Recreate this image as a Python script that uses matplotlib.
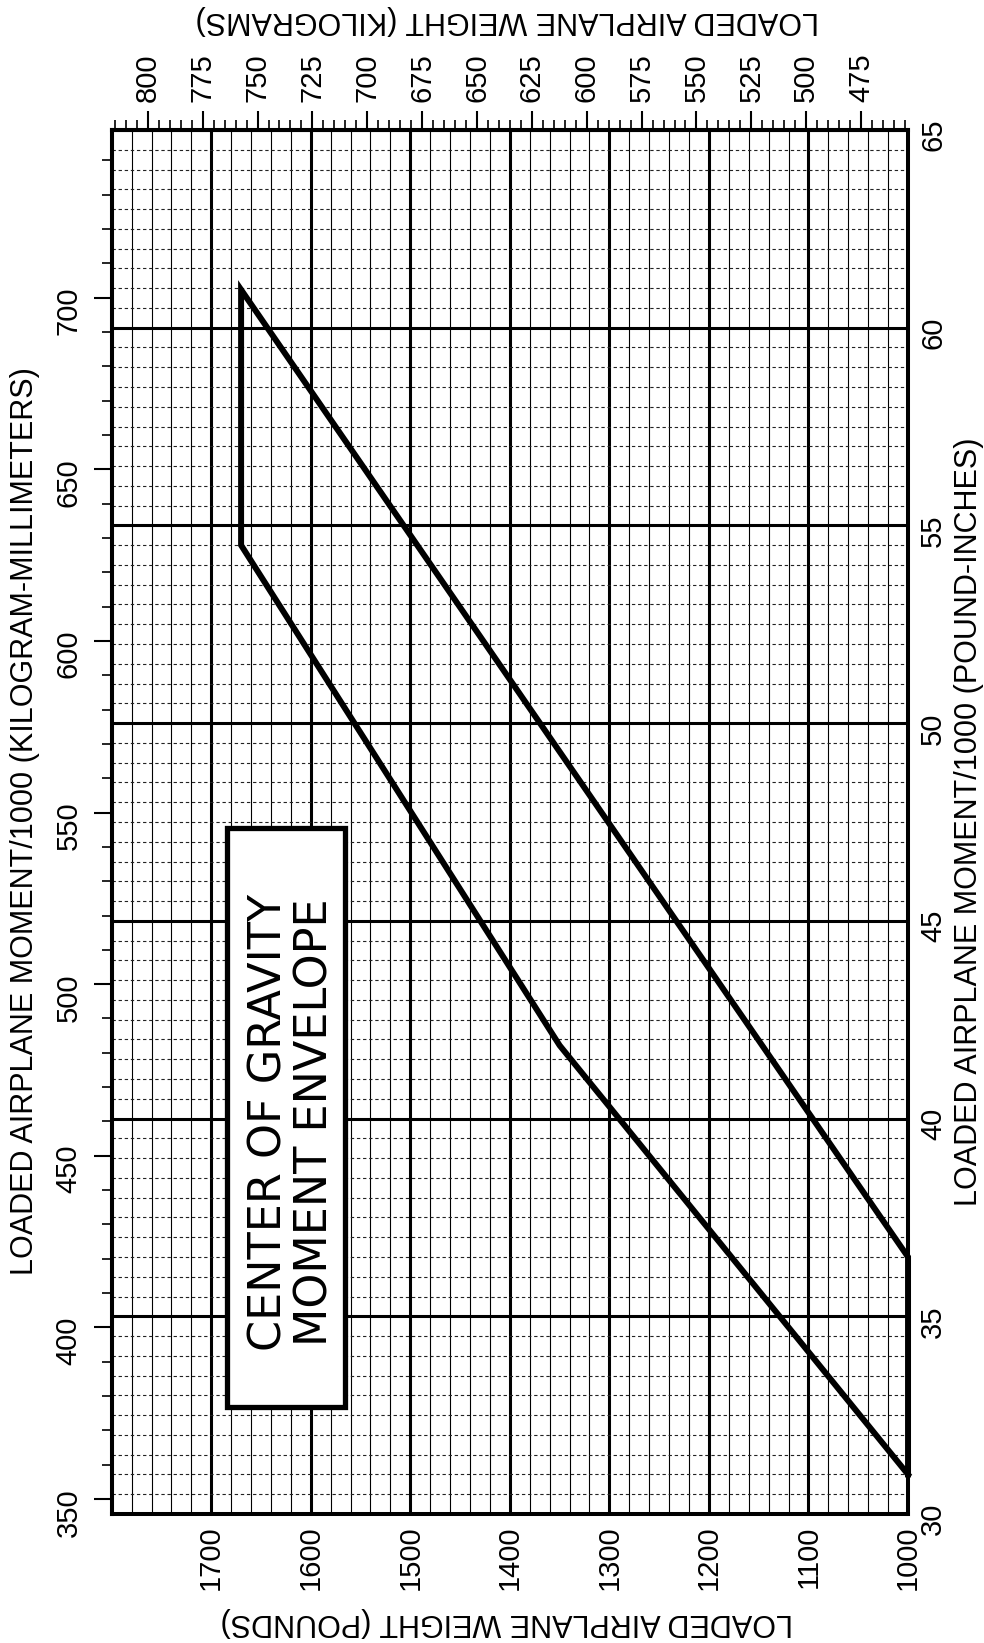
import numpy as np
import matplotlib.pyplot as plt
from matplotlib.patches import Rectangle

plt.rcParams['font.family'] = ['Liberation Sans', 'DejaVu Sans']

# envelope corners (pounds, pound-inches/1000)
env_weight = [1000, 1350, 1670, 1670, 1000, 1000]
env_moment = [31.0, 41.85, 54.5, 60.96, 36.5, 31.0]

lb_ticks = [1000, 1100, 1200, 1300, 1400, 1500, 1600, 1700]
lbin_ticks = [30, 35, 40, 45, 50, 55, 60, 65]
kg_ticks = [475, 500, 525, 550, 575, 600, 625, 650, 675, 700, 725, 750, 775, 800]
kgmm_ticks = [350, 400, 450, 500, 550, 600, 650, 700]

LB_PER_KG = 2.20462
KGMM_PER_LBIN = 11.521

fig = plt.figure(figsize=(9.84, 16.43), dpi=100)
ax = fig.add_axes([0.1135, 0.0785, 0.8093, 0.8424])
ax.set_xlim(1800, 1000)
ax.set_ylim(30, 65)

ax.set_xticks(lb_ticks)
ax.set_xticks(np.arange(1000, 1801, 20), minor=True)
ax.set_yticks(lbin_ticks)
ax.set_yticks(np.arange(30, 65.01, 0.5), minor=True)

ax.grid(which='major', color='black', lw=2.2)
ax.grid(which='minor', axis='x', color='black', lw=0.8)
ax.grid(which='minor', axis='y', color='#222222', lw=0.8, ls=(0, (3, 2.5)))

ax.tick_params(which='both', length=0, top=False, bottom=False, left=False, right=False,
               labelbottom=True, labelright=True, labelleft=False)
ax.tick_params(axis='both', labelrotation=90, pad=8, labelsize=21)
for s in ax.spines.values():
    s.set_linewidth(2.9)

ax.plot(env_weight, env_moment, color='black', lw=4.3, solid_joinstyle='miter',
        clip_on=False, zorder=5)

# kilogram scales
sec_top = ax.secondary_xaxis('top', functions=(lambda w: w / LB_PER_KG, lambda k: k * LB_PER_KG))
sec_top.set_xticks(kg_ticks)
sec_top.set_xticks(np.arange(455, 816, 5), minor=True)
sec_top.tick_params(which='major', direction='out', length=14, width=1.5, pad=6,
                    labelsize=21, labelrotation=90)
sec_top.tick_params(which='minor', direction='out', length=7, width=1.2)

sec_left = ax.secondary_yaxis('left', functions=(lambda m: m * KGMM_PER_LBIN, lambda k: k / KGMM_PER_LBIN))
sec_left.set_yticks(kgmm_ticks)
sec_left.set_yticks(np.arange(350, 751, 10), minor=True)
sec_left.tick_params(which='major', direction='out', length=13, width=1.5, pad=8,
                     labelsize=21, labelrotation=90)
sec_left.tick_params(which='minor', direction='out', length=7, width=1.2)
for s in list(sec_top.spines.values()) + list(sec_left.spines.values()):
    s.set_linewidth(2.9)

# title box
ax.add_patch(Rectangle((0.1448, 0.0773), 0.1482, 0.4184, transform=ax.transAxes,
                       facecolor='white', edgecolor='black', lw=3.8, zorder=6))
ax.text(0.198, 0.283, 'CENTER OF GRAVITY', rotation=90, ha='center', va='center',
        transform=ax.transAxes, fontsize=32, family='DejaVu Sans', zorder=7)
ax.text(0.255, 0.283, 'MOMENT ENVELOPE', rotation=90, ha='center', va='center',
        transform=ax.transAxes, fontsize=32, family='DejaVu Sans', zorder=7)

# axis titles
fig.text(0.515, 0.988, 'LOADED AIRPLANE WEIGHT (KILOGRAMS)', rotation=180,
         ha='center', va='center', fontsize=22)
fig.text(0.515, 0.0128, 'LOADED AIRPLANE WEIGHT (POUNDS)', rotation=180,
         ha='center', va='center', fontsize=22)
fig.text(0.0254, 0.5, 'LOADED AIRPLANE MOMENT/1000 (KILOGRAM-MILLIMETERS)', rotation=90,
         ha='center', va='center', fontsize=22)
fig.text(0.985, 0.5, 'LOADED AIRPLANE MOMENT/1000 (POUND-INCHES)', rotation=90,
         ha='center', va='center', fontsize=22)

fig.savefig('out.png', dpi=100)
